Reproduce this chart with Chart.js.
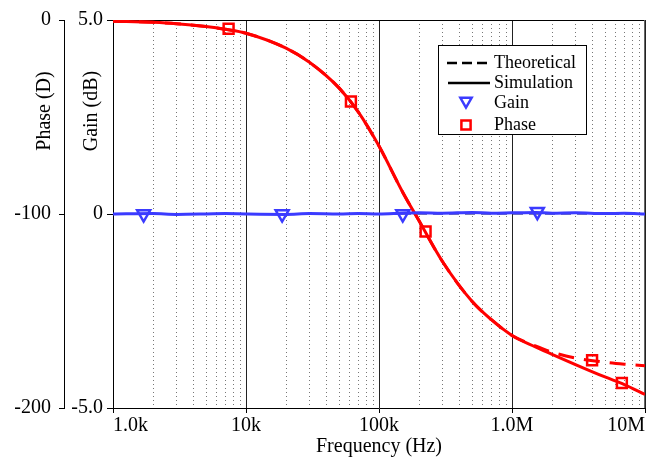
<!DOCTYPE html>
<html>
<head>
<meta charset="utf-8">
<script src="https://cdn.jsdelivr.net/npm/chart.js@4.4.1/dist/chart.umd.min.js"></script>
<style>
  html, body { margin: 0; padding: 0; background: #fff; }
</style>
</head>
<body>
<canvas id="bode" width="665" height="457"></canvas>
<script>
// trace frequencies (Hz)
const freq = [1e3, 2e3, 3e3, 5e3, 7e3, 1e4, 2e4, 3e4, 5e4, 7e4, 1e5, 1.5e5, 2e5, 3e5, 5e5, 7e5,
              1e6, 1.5e6, 2e6, 3e6, 5e6, 7e6, 1e7];
// phase (deg)
const phaseTheory = [-0.6, -1.2, -1.9, -3.4, -4.8, -6.8, -14.5, -21.8, -35, -47.5, -65, -88.5, -103.5, -124.5, -145, -154.5,
                     -162.6, -168, -171.2, -174.2, -176.4, -177.4, -178.2];
const phaseSim = [-0.6, -1.2, -1.9, -3.4, -4.8, -6.8, -14.5, -21.8, -35, -47.5, -65, -88.5, -103.5, -124.5, -145, -154.5,
                  -162.6, -168.5, -172.3, -177.6, -184, -187.9, -193];
// gain (dB)
const gainTheory = [0, 0, 0, 0, 0, 0, 0, 0, 0, 0, 0, 0, 0, 0, 0, 0, 0, 0, 0, 0, 0, 0, 0];
const gainSim = [0, 0.01, -0.01, 0, 0.01, 0, -0.01, 0.01, 0, 0.01, 0, 0.02, 0.03, 0.02, 0.04, 0.02,
                 0.03, 0.04, 0.02, 0.03, 0.01, 0.02, 0];

// marker points
const gainMarkFreq = [1.7e3, 1.87e4, 1.51e5, 1.55e6];
const gainMarkVal = [0, 0, 0, 0.06];
const phaseMarkFreq = [7.4e3, 6.15e4, 2.24e5, 4.0e6, 6.7e6];
const phaseMarkVal = [-4.5, -42, -109, -175.4, -187.1];

// axis ticks
const freqTicks = [1e3, 1e4, 1e5, 1e6, 1e7];
const freqLabels = ['1.0k', '10k', '100k', '1.0M', '10M'];

const RED = '#ff0000';
const BLUE = '#3b3bff';
const FONT = 'Liberation Serif';

function pts(xs, ys) {
  return xs.map((x, i) => ({ x: x, y: ys[i] }));
}

// dotted minor grid + frame
const gridPlugin = {
  id: 'minorGrid',
  beforeDatasetsDraw(chart) {
    const ctx = chart.ctx, a = chart.chartArea, xs = chart.scales.x;
    ctx.save();
    ctx.strokeStyle = '#777';
    ctx.lineWidth = 1;
    ctx.setLineDash([1, 3]);
    for (let d = 1e3; d < 1e7; d *= 10) {
      for (let m = 2; m <= 9; m++) {
        const x = Math.round(xs.getPixelForValue(m * d)) + 0.5;
        ctx.beginPath();
        ctx.moveTo(x, a.top);
        ctx.lineTo(x, a.bottom);
        ctx.stroke();
      }
    }
    ctx.setLineDash([]);
    ctx.strokeStyle = '#000';
    ctx.beginPath();
    ctx.moveTo(a.left, a.top + 0.5);
    ctx.lineTo(a.right, a.top + 0.5);
    ctx.stroke();
    ctx.strokeStyle = '#666';
    ctx.beginPath();
    ctx.moveTo(a.right - 0.5, a.top);
    ctx.lineTo(a.right - 0.5, a.bottom);
    ctx.stroke();
    ctx.restore();
  }
};

// rotated axis titles and the boxed legend
const textPlugin = {
  id: 'texts',
  afterDraw(chart) {
    const ctx = chart.ctx;
    ctx.save();
    ctx.fillStyle = '#000';
    ctx.font = '20px "' + FONT + '"';
    ctx.textAlign = 'center';
    ctx.textBaseline = 'middle';
    [['Phase (D)', 45], ['Gain (dB)', 92]].forEach(t => {
      ctx.save();
      ctx.translate(t[1], 111);
      ctx.rotate(-Math.PI / 2);
      ctx.fillText(t[0], 0, 0);
      ctx.restore();
    });

    // legend
    ctx.fillStyle = '#fff';
    ctx.fillRect(438, 45, 149, 90);
    ctx.strokeStyle = '#000';
    ctx.lineWidth = 1;
    ctx.strokeRect(438.5, 45.5, 148, 89);

    ctx.lineWidth = 2.5;
    ctx.setLineDash([10, 5]);
    ctx.beginPath();
    ctx.moveTo(447, 63);
    ctx.lineTo(489, 63);
    ctx.stroke();
    ctx.setLineDash([]);
    ctx.beginPath();
    ctx.moveTo(448, 83);
    ctx.lineTo(490, 83);
    ctx.stroke();

    ctx.strokeStyle = BLUE;
    ctx.lineWidth = 2.5;
    Chart.helpers.drawPoint(ctx, { pointStyle: 'triangle', rotation: 180, radius: 6.5, borderWidth: 2.5 }, 466, 101);
    ctx.strokeStyle = RED;
    Chart.helpers.drawPoint(ctx, { pointStyle: 'rect', rotation: 0, radius: 6.5, borderWidth: 2.5 }, 466, 125);

    ctx.fillStyle = '#000';
    ctx.font = '18px "' + FONT + '"';
    ctx.textAlign = 'left';
    ctx.fillText('Theoretical', 494, 63);
    ctx.fillText('Simulation', 494, 83);
    ctx.fillText('Gain', 494, 103);
    ctx.fillText('Phase', 494, 125);
    ctx.restore();
  }
};

const ctx = document.getElementById('bode').getContext('2d');
new Chart(ctx, {
  type: 'line',
  data: {
    datasets: [
      {
        label: 'Gain markers', data: pts(gainMarkFreq, gainMarkVal), yAxisID: 'gain',
        showLine: false, pointStyle: 'triangle', pointRotation: 180, pointRadius: 7.5,
        pointBorderWidth: 2.5, pointBorderColor: BLUE, pointBackgroundColor: 'rgba(0,0,0,0)', order: 0
      },
      {
        label: 'Phase markers', data: pts(phaseMarkFreq, phaseMarkVal), yAxisID: 'phase',
        showLine: false, pointStyle: 'rect', pointRadius: 7,
        pointBorderWidth: 2.5, pointBorderColor: RED, pointBackgroundColor: 'rgba(0,0,0,0)', order: 0
      },
      {
        label: 'Gain simulation', data: pts(freq, gainSim), yAxisID: 'gain',
        borderColor: BLUE, borderWidth: 3, pointRadius: 0, cubicInterpolationMode: 'monotone', order: 1
      },
      {
        label: 'Phase simulation', data: pts(freq, phaseSim), yAxisID: 'phase',
        borderColor: RED, borderWidth: 3, pointRadius: 0, cubicInterpolationMode: 'monotone', order: 1
      },
      {
        label: 'Gain theoretical', data: pts(freq, gainTheory), yAxisID: 'gain',
        borderColor: 'rgba(90,90,160,0.8)', borderWidth: 2, borderDash: [10, 6], pointRadius: 0, order: 2
      },
      {
        label: 'Phase theoretical', data: pts(freq, phaseTheory), yAxisID: 'phase',
        borderColor: RED, borderWidth: 3, borderDash: [16, 10], pointRadius: 0,
        cubicInterpolationMode: 'monotone', order: 2
      }
    ]
  },
  options: {
    responsive: false,
    animation: false,
    layout: { padding: { top: 17, right: 20, bottom: 0, left: 0 } },
    plugins: { legend: { display: false }, tooltip: { enabled: false } },
    scales: {
      x: {
        type: 'logarithmic', min: 1e3, max: 1e7,
        afterBuildTicks: s => { s.ticks = freqTicks.map(v => ({ value: v })); },
        afterFit: s => { s.height = 49; },
        ticks: {
          color: '#000', font: { family: FONT, size: 20 }, padding: 1, align: 'inner',
          maxRotation: 0, autoSkip: false,
          callback: v => freqLabels[freqTicks.indexOf(v)]
        },
        grid: { color: '#222', lineWidth: 1, tickLength: 5, tickColor: '#000' },
        border: { color: '#000', width: 1 },
        title: {
          display: true, text: 'Frequency (Hz)', color: '#000',
          font: { family: FONT, size: 20, lineHeight: 1 }, padding: 0
        }
      },
      gain: {
        type: 'linear', position: 'left', weight: 1, min: -5, max: 5,
        afterFit: s => { s.width = 49; },
        ticks: {
          stepSize: 5, color: '#000', font: { family: FONT, size: 20 }, padding: 4,
          callback: v => (v === 0 ? '0' : v.toFixed(1))
        },
        grid: { drawOnChartArea: false, tickLength: 6, tickColor: '#000' },
        border: { color: '#000', width: 1 }
      },
      phase: {
        type: 'linear', position: 'left', weight: 2, min: -200, max: 0,
        afterFit: s => { s.width = 64; },
        ticks: { stepSize: 100, color: '#000', font: { family: FONT, size: 20 }, padding: 8 },
        grid: { drawOnChartArea: false, tickLength: 5, tickColor: '#000' },
        border: { color: '#000', width: 1 }
      }
    }
  },
  plugins: [gridPlugin, textPlugin]
});
</script>
</body>
</html>
